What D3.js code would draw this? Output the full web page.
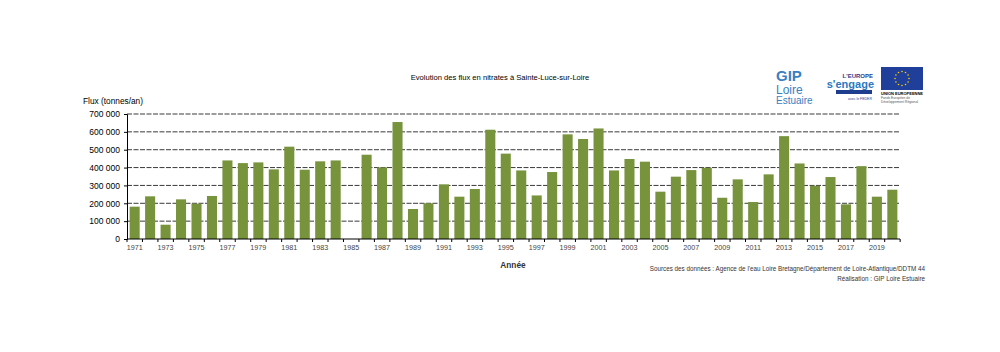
<!DOCTYPE html>
<html><head><meta charset="utf-8">
<script src="https://cdn.jsdelivr.net/npm/d3@7"></script>
<style>body{margin:0;background:#fff;} text{font-family:"Liberation Sans",Arial,sans-serif;}</style>
</head><body><svg id="c" width="1000" height="352"></svg>
<script>
const years = d3.range(1971, 2021).map(String);
const flux = [181000,239000,80000,222000,198000,241000,440000,425000,429000,390000,
  517000,388000,435000,440000,null,472000,401000,655000,168000,200000,
  306000,237000,280000,612000,478000,384000,244000,375000,586000,560000,
  619000,384000,448000,433000,265000,349000,386000,399000,231000,334000,
  207000,362000,576000,423000,298000,347000,194000,408000,237000,276000];
const yTicks = [0,100000,200000,300000,400000,500000,600000,700000];
const title = "Evolution des flux en nitrates à Sainte-Luce-sur-Loire";
const yTitle = "Flux (tonnes/an)";
const xTitle = "Année";
const source1 = "Sources des données : Agence de l'eau Loire Bretagne/Département de Loire-Atlantique/DDTM 44";
const source2 = "Réalisation : GIP Loire Estuaire";

const svg = d3.select("#c");
const L = 127, R = 900, T = 114, B = 239;
const x = d3.scaleBand().domain(years).range([L, R]).paddingInner(0.35).paddingOuter(0.17);
const y = d3.scaleLinear().domain([0, 700000]).range([B, T]);
const fmt = v => d3.format(",")(v).replace(/,/g, " ");

// gridlines
svg.append("g").selectAll("line").data(yTicks.filter(d => d > 0)).join("line")
  .attr("x1", L).attr("x2", R).attr("y1", d => y(d)).attr("y2", d => y(d))
  .attr("stroke", "#3a3a3a").attr("stroke-width", 1).attr("stroke-dasharray", "5,1.5");

// bars
svg.append("g").selectAll("rect").data(years.map((yr, i) => ({yr, v: flux[i]})).filter(d => d.v != null)).join("rect")
  .attr("x", d => x(d.yr)).attr("width", x.bandwidth())
  .attr("y", d => y(d.v)).attr("height", d => B - y(d.v))
  .attr("fill", "#77933c");

// y axis
const yAxis = svg.append("g").attr("transform", `translate(${L},0)`)
  .call(d3.axisLeft(y).tickValues(yTicks).tickFormat(fmt).tickSize(3).tickPadding(4));
yAxis.select(".domain").attr("stroke", "#000");
yAxis.selectAll("text").attr("font-size", "8.5px").attr("fill", "#000");

// x axis
const xAxis = svg.append("g").attr("transform", `translate(0,${B})`)
  .call(d3.axisBottom(x).tickValues(years.filter((d, i) => i % 2 === 0)).tickSize(0).tickPadding(6));
xAxis.select(".domain").attr("stroke", "#000").attr("d", `M${L},0H${R}`);
xAxis.selectAll("text").attr("font-size", "7.2px").attr("fill", "#444");
// category boundary ticks
svg.append("g").selectAll("line").data(d3.range(years.length + 1)).join("line")
  .attr("x1", i => L + i * x.step()).attr("x2", i => L + i * x.step())
  .attr("y1", B).attr("y2", B + 3).attr("stroke", "#000");

// titles
svg.append("text").attr("x", 500).attr("y", 80).attr("text-anchor", "middle")
  .attr("font-size", "7.6px").text(title);
svg.append("text").attr("x", 83).attr("y", 104).attr("font-size", "8.3px").text(yTitle);
svg.append("text").attr("x", 513).attr("y", 268).attr("text-anchor", "middle")
  .attr("font-size", "8.3px").attr("font-weight", "bold").attr("fill", "#333").text(xTitle);
svg.append("text").attr("x", 925).attr("y", 271).attr("text-anchor", "end")
  .attr("font-size", "6.3px").attr("fill", "#333").text(source1);
svg.append("text").attr("x", 925).attr("y", 281).attr("text-anchor", "end")
  .attr("font-size", "6.3px").attr("fill", "#333").text(source2);

// logos
const lg = svg.append("g");
lg.append("text").attr("x", 776).attr("y", 81).attr("font-size", "15px").attr("font-weight", "bold").attr("fill", "#3a7fc1").text("GIP");
lg.append("text").attr("x", 776).attr("y", 94).attr("font-size", "12px").attr("fill", "#3a7fc1").text("Loire");
lg.append("text").attr("x", 776).attr("y", 104).attr("font-size", "10px").attr("fill", "#3a7fc1").text("Estuaire");
lg.append("text").attr("x", 873).attr("y", 78).attr("text-anchor", "end").attr("font-size", "6px").attr("font-weight", "bold").attr("fill", "#1e3d8f").text("L'EUROPE");
lg.append("text").attr("x", 874).attr("y", 88).attr("text-anchor", "end").attr("font-size", "11px").attr("font-weight", "bold").attr("fill", "#2b78c0").text("s'engage");
lg.append("rect").attr("x", 836).attr("y", 90).attr("width", 36).attr("height", 4).attr("fill", "#1e3d8f");
lg.append("text").attr("x", 872).attr("y", 100).attr("text-anchor", "end").attr("font-size", "3.5px").attr("fill", "#1e3d8f").text("avec le FEDER");
lg.append("rect").attr("x", 881).attr("y", 67).attr("width", 42).attr("height", 23).attr("fill", "#1f3f9a");
const stars = d3.range(12).map(i => [902 + 7 * Math.cos(i * Math.PI / 6), 78.5 + 7 * Math.sin(i * Math.PI / 6)]);
lg.selectAll("circle.s").data(stars).join("circle").attr("cx", d => d[0]).attr("cy", d => d[1]).attr("r", 0.8).attr("fill", "#fc0");
lg.append("text").attr("x", 881).attr("y", 95).attr("font-size", "4px").attr("font-weight", "bold").text("UNION EUROPEENNE");
lg.append("text").attr("x", 881).attr("y", 99).attr("font-size", "3.3px").attr("fill", "#555").text("Fonds Européen de");
lg.append("text").attr("x", 881).attr("y", 103).attr("font-size", "3.3px").attr("fill", "#555").text("Développement Régional");
</script></body></html>
